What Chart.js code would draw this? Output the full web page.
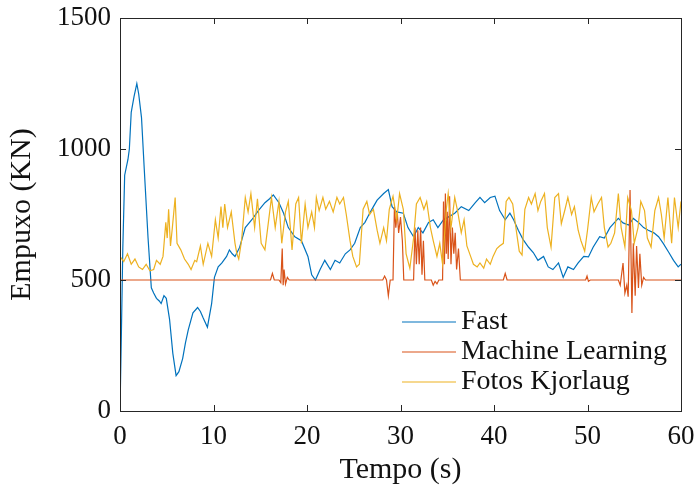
<!DOCTYPE html>
<html>
<head>
<meta charset="utf-8">
<script src="https://cdn.jsdelivr.net/npm/chart.js@4/dist/chart.umd.min.js"></script>
<style>
  html, body { margin: 0; padding: 0; background: #fff; }
  #wrap { width: 697px; height: 492px; }
</style>
</head>
<body>
<div id="wrap"><canvas id="thrustChart" width="697" height="492"></canvas></div>
<script>
// Séries (tempo em s, empuxo em KN)
const seriesNames = ['Fast', 'Machine Learning', 'Fotos Kjorlaug'];
const xTicks = [0, 10, 20, 30, 40, 50, 60];
const yTicks = [0, 500, 1000, 1500];

const fastTime = [0, 0.15, 0.3, 0.5, 0.85, 1.0, 1.2, 1.5, 1.8, 2.0, 2.3, 2.6, 3.0, 3.35, 3.6, 3.9, 4.2, 4.4, 4.7, 4.95,
  5.3, 5.65, 6.0, 6.3, 6.7, 7.0, 7.3, 7.8, 8.3, 8.6, 8.9, 9.35, 9.8, 10.1, 10.5, 10.9, 11.4, 11.7, 12.0, 12.3,
  12.8, 13.4, 14.1, 14.8, 15.5, 16.0, 16.4, 17.0, 17.5, 18.0, 18.7, 19.4, 20.1, 20.5, 20.9, 21.4, 21.9, 22.5, 23.0, 23.5,
  24.1, 24.6, 25.1, 25.7, 26.2, 26.7, 27.1, 27.5, 28.2, 28.7, 29.1, 29.6, 30.3, 30.8, 31.4, 31.9, 32.4, 33.0, 33.5, 34.0,
  34.6, 35.1, 35.8, 36.5, 37.3, 38.0, 38.5, 39.0, 39.6, 40.1, 40.6, 41.2, 41.7, 42.1, 42.6, 43.1, 43.7, 44.2, 44.7, 45.3,
  45.8, 46.3, 46.9, 47.4, 47.9, 48.5, 49.0, 49.6, 50.1, 50.6, 51.3, 51.8, 52.4, 52.9, 53.3, 53.8, 54.4, 54.9, 55.5, 56.0,
  56.5, 57.1, 57.6, 58.1, 58.7, 59.2, 59.7, 60.0];
const fastThrust = [0, 300, 620, 900, 960, 1000, 1140, 1200, 1250, 1210, 1120, 920, 660, 470, 450, 430, 420, 410, 440, 430,
  350, 220, 135, 150, 200, 260, 310, 375, 395, 380, 355, 320, 410, 510, 550, 565, 590, 615, 600, 590,
  625, 700, 730, 765, 795, 810, 825, 795, 755, 700, 665, 650, 590, 520, 500, 540, 575, 540, 575, 565,
  600, 615, 640, 700, 720, 755, 780, 805, 830, 845, 780, 760, 755, 700, 665, 700, 680, 720, 730, 700,
  730, 740, 755, 780, 765, 795, 815, 795, 815, 820, 765, 730, 755, 730, 690, 655, 625, 605, 575, 590,
  550, 540, 565, 510, 550, 540, 565, 590, 588, 625, 665, 660, 700, 720, 735, 718, 710, 735, 718, 700,
  690, 680, 665, 640, 605, 575, 550, 560];

const mlTime = [0, 16.1, 16.3, 16.5, 17.0, 17.2, 17.35, 17.45, 17.55, 17.7, 17.9, 18.1, 28.1, 28.3, 28.5, 28.7, 28.9,
  29.2, 29.35, 29.5, 29.65, 29.8, 30.0, 30.2, 30.35, 31.4, 31.55, 31.7, 31.85, 32.0, 32.15, 32.3, 32.45, 32.6,
  33.3, 33.5, 33.7, 33.9, 34.1, 34.5, 34.6, 34.7, 34.8, 34.9, 35.0, 35.1, 35.25, 35.4, 35.55, 35.7, 35.85, 36.0, 36.2, 36.4,
  41.0, 41.2, 41.4, 49.8, 49.95, 50.1, 50.3, 53.3, 53.5, 53.8, 54.0, 54.2, 54.35, 54.55, 54.75, 54.9, 55.1, 55.25, 55.45,
  55.6, 55.8, 56.0, 56.2, 60.0];
const mlThrust = [500, 500, 525, 500, 500, 490, 620, 480, 540, 485, 510, 500, 500, 515, 500, 440, 500,
  500, 780, 700, 760, 680, 740, 650, 500, 500, 700, 560, 690, 560, 700, 520, 650, 500,
  500, 480, 495, 485, 500, 500, 800, 560, 830, 600, 760, 580, 820, 560, 700, 600, 680, 540, 620, 500,
  500, 525, 500, 500, 515, 495, 500, 500, 480, 565, 450, 480, 436, 843, 374, 640, 440, 630, 470,
  600, 480, 510, 500, 500];

const fotosTime = [0, 0.4, 0.8, 1.2, 1.6, 2.0, 2.4, 2.8, 3.2, 3.6, 3.9, 4.3, 4.6, 4.9, 5.05, 5.2, 5.4, 5.6, 5.9, 6.1,
  6.5, 6.9, 7.3, 7.6, 8.0, 8.2, 8.6, 8.9, 9.4, 9.8, 10.2, 10.5, 10.8, 11.0, 11.2, 11.5, 11.9, 12.3, 12.5, 12.7,
  13.0, 13.4, 13.7, 14.0, 14.4, 14.7, 15.1, 15.5, 15.8, 16.2, 16.6, 17.0, 17.3, 17.7, 18.0, 18.4, 18.8, 19.1, 19.4, 19.8,
  20.1, 20.5, 20.8, 21.0, 21.3, 21.7, 22.0, 22.4, 22.8, 23.2, 23.5, 23.9, 24.2, 24.6, 24.9, 25.3, 25.6, 26.0, 26.4, 26.7,
  27.1, 27.5, 27.8, 28.2, 28.5, 28.8, 29.2, 29.6, 29.9, 30.3, 30.6, 31.0, 31.4, 31.7, 32.1, 32.5, 32.8, 33.2, 33.5, 33.9,
  34.2, 34.5, 34.9, 35.1, 35.4, 35.8, 36.1, 36.5, 36.8, 37.1, 37.5, 37.8, 38.2, 38.5, 38.9, 39.2, 39.6, 39.9, 40.3, 40.6,
  41.0, 41.3, 41.6, 42.0, 42.3, 42.7, 43.0, 43.3, 43.7, 44.0, 44.4, 44.7, 45.0, 45.4, 45.7, 46.1, 46.5, 46.9, 47.2, 47.6,
  47.9, 48.3, 48.6, 49.0, 49.3, 49.7, 50.0, 50.4, 50.7, 51.1, 51.5, 51.8, 52.2, 52.5, 52.9, 53.3, 53.6, 54.0, 54.3, 54.7,
  55.0, 55.4, 55.7, 56.1, 56.4, 56.8, 57.2, 57.6, 57.9, 58.2, 58.6, 59.0, 59.3, 59.7, 60.0];
const fotosThrust = [590, 570, 600, 560, 580, 550, 540, 560, 535, 540, 575, 560, 590, 720, 660, 770, 630, 700, 815, 640,
  615, 580, 560, 540, 575, 570, 630, 560, 640, 590, 730, 660, 780, 700, 790, 700, 760, 640, 600, 580,
  650, 815, 760, 830, 700, 810, 640, 615, 700, 815, 700, 800, 640, 760, 800, 615, 790, 815, 640, 790,
  700, 760, 700, 815, 765, 815, 770, 800, 760, 815, 790, 815, 750, 650, 590, 550, 560, 770, 800, 750,
  770, 690, 640, 700, 650, 770, 820, 730, 830, 770, 600, 545, 660, 790, 815, 770, 800, 700, 650, 590,
  640, 560, 770, 830, 700, 815, 765, 680, 730, 630, 590, 560, 550, 565, 545, 580, 560, 590, 620, 630,
  640, 800, 815, 790, 710, 610, 595, 770, 815, 790, 830, 765, 800, 830, 700, 625, 815, 830, 715, 770,
  815, 750, 780, 690, 650, 610, 690, 815, 760, 790, 815, 700, 626, 640, 680, 830, 700, 626, 815, 765,
  640, 700, 800, 765, 660, 626, 765, 815, 750, 660, 815, 640, 815, 700, 800];

const colors = ['#0072BD', '#D95319', '#EDB120'];
const axisColor = '#262626';
const serif = "'Liberation Serif', 'Times New Roman', serif";

function toPoints(times, values) {
    return times.map((t, i) => ({ x: t, y: values[i] }));
}

// Moldura completa com marcas para dentro (estilo MATLAB)
const boxPlugin = {
    id: 'boxPlugin',
    afterDatasetsDraw(chart) {
        const { ctx, chartArea: a, scales } = chart;
        ctx.save();
        ctx.strokeStyle = axisColor;
        ctx.lineWidth = 1;
        ctx.strokeRect(a.left + 0.5, a.top + 0.5, a.right - a.left, a.bottom - a.top);
        const len = 6;
        ctx.beginPath();
        xTicks.forEach(v => {
            const px = Math.round(scales.x.getPixelForValue(v)) + 0.5;
            ctx.moveTo(px, a.bottom); ctx.lineTo(px, a.bottom - len);
            ctx.moveTo(px, a.top); ctx.lineTo(px, a.top + len);
        });
        yTicks.forEach(v => {
            const py = Math.round(scales.y.getPixelForValue(v)) + 0.5;
            ctx.moveTo(a.left, py); ctx.lineTo(a.left + len, py);
            ctx.moveTo(a.right, py); ctx.lineTo(a.right - len, py);
        });
        ctx.stroke();

        // Legenda dentro da área do gráfico
        ctx.font = '28px ' + serif;
        ctx.textBaseline = 'middle';
        ctx.fillStyle = '#111';
        chart.data.datasets.forEach((ds, i) => {
            const y = 322 + i * 30;
            ctx.strokeStyle = ds.borderColor;
            ctx.lineWidth = 1.2;
            ctx.beginPath();
            ctx.moveTo(402, y); ctx.lineTo(456, y);
            ctx.stroke();
            ctx.fillText(ds.label, 461, y);
        });
        ctx.restore();
    }
};

const ctx = document.getElementById('thrustChart').getContext('2d');
new Chart(ctx, {
    type: 'line',
    data: {
        datasets: [
            { label: seriesNames[0], data: toPoints(fastTime, fastThrust), borderColor: colors[0], order: 3 },
            { label: seriesNames[1], data: toPoints(mlTime, mlThrust), borderColor: colors[1], order: 2 },
            { label: seriesNames[2], data: toPoints(fotosTime, fotosThrust), borderColor: colors[2], order: 1 }
        ]
    },
    options: {
        responsive: false,
        animation: false,
        events: [],
        layout: { padding: { top: 18, right: 16, bottom: 0, left: 0 } },
        elements: {
            point: { radius: 0 },
            line: { borderWidth: 1.2, tension: 0, fill: false }
        },
        plugins: { legend: { display: false }, tooltip: { enabled: false } },
        scales: {
            x: {
                type: 'linear',
                min: 0, max: 60,
                afterBuildTicks: s => { s.ticks = xTicks.map(v => ({ value: v })); },
                afterFit: s => { s.height = 81; s.paddingLeft = 0; s.paddingRight = 0; },
                grid: { drawOnChartArea: false, drawTicks: false, display: false },
                border: { display: false },
                ticks: { color: '#111', padding: 10, maxRotation: 0, callback: v => String(v), font: { family: serif, size: 27 } },
                title: { display: true, text: 'Tempo (s)', color: '#111', padding: { top: 6 }, font: { family: serif, size: 30 } }
            },
            y: {
                min: 0, max: 1500,
                afterBuildTicks: s => { s.ticks = yTicks.map(v => ({ value: v })); },
                afterFit: s => { s.width = 120; s.paddingTop = 0; s.paddingBottom = 0; },
                grid: { drawOnChartArea: false, drawTicks: false, display: false },
                border: { display: false },
                ticks: { color: '#111', padding: 9, callback: v => String(v), font: { family: serif, size: 27 } },
                title: { display: true, text: 'Empuxo (KN)', color: '#111', padding: { bottom: 2 }, font: { family: serif, size: 30 } }
            }
        }
    },
    plugins: [boxPlugin]
});
</script>
</body>
</html>
